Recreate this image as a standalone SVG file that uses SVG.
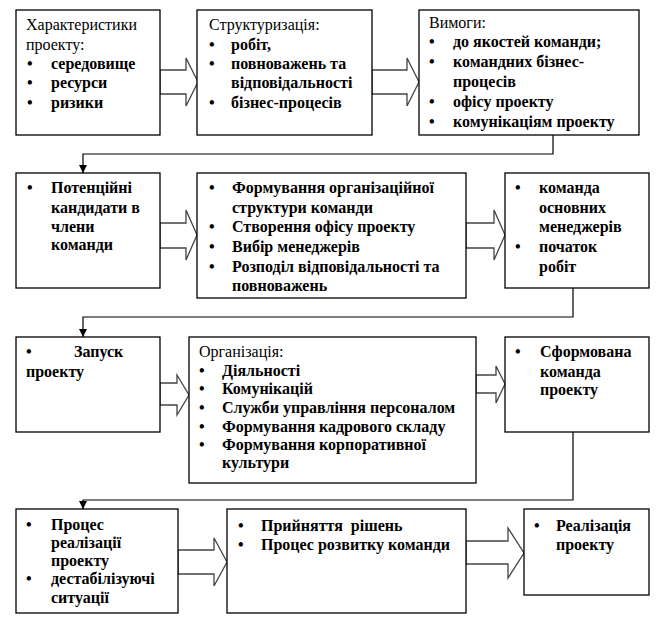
<svg xmlns="http://www.w3.org/2000/svg" width="665" height="620" viewBox="0 0 665 620" font-family="Liberation Serif">
<style>
  text { font-family: "Liberation Serif", "Times New Roman", serif; font-size: 16px; fill: #000; }
  .b { font-weight: bold; }
  .box { fill: #fff; stroke: #000; stroke-width: 1.3; }
  .blk { fill: #fff; stroke: #444; stroke-width: 1.3; stroke-linejoin: miter; }
  .con { fill: none; stroke: #000; stroke-width: 1.2; }
</style>
<defs>
  <marker id="ah" viewBox="0 0 10 10" refX="10" refY="5" markerWidth="8" markerHeight="8" markerUnits="userSpaceOnUse" orient="auto">
    <path d="M0,0 L10,5 L0,10 z" fill="#000"/>
  </marker>
</defs>
<rect width="665" height="620" fill="#fff"/>

<g id="connectors">
  <polygon class="blk" points="160,70 186,70 186,58 198,82 186,106 186,94 160,94"/>
  <polygon class="blk" points="372,70 407,70 407,58 419,82 407,106 407,94 372,94"/>
  <polygon class="blk" points="160,223 186,223 186,210 197,235 186,260 186,248 160,248"/>
  <polygon class="blk" points="466,223 494,223 494,210 505,235 494,260 494,248 466,248"/>
  <polygon class="blk" points="160,383 177,383 177,375 189,395 177,415 177,405 160,405"/>
  <polygon class="blk" points="476,375 496,375 496,366 505,384 496,403 496,393 476,393"/>
  <polygon class="blk" points="178,550 214,550 214,538 227,562 214,586 214,574 178,574"/>
  <polygon class="blk" points="466,541 508,541 508,528 524,553 508,578 508,564 466,564"/>
  <polyline class="con" points="553,135 553,154 83,154 83,173" marker-end="url(#ah)"/>
  <polyline class="con" points="573,288 573,317 83,317 83,337" marker-end="url(#ah)"/>
  <polyline class="con" points="573,432 573,500 83,500 83,509" marker-end="url(#ah)"/>
</g>

<g id="n1">
  <rect class="box" x="16" y="10" width="144" height="125"/>
  <text x="26" y="30">Характеристики</text>
  <text x="26" y="50">проекту:</text>
  <text x="27" y="69" class="b">•</text><text x="51" y="69" class="b">середовище</text>
  <text x="27" y="88" class="b">•</text><text x="51" y="88" class="b">ресурси</text>
  <text x="27" y="108" class="b">•</text><text x="51" y="108" class="b">ризики</text>
</g>

<g id="n2">
  <rect class="box" x="197" y="10" width="175" height="125"/>
  <text x="209" y="30">Структуризація:</text>
  <text x="209" y="50" class="b">•</text><text x="231" y="50" class="b">робіт,</text>
  <text x="209" y="69" class="b">•</text><text x="231" y="69" class="b">повноважень та</text>
  <text x="231" y="88" class="b">відповідальності</text>
  <text x="209" y="108" class="b">•</text><text x="231" y="108" class="b">бізнес-процесів</text>
</g>

<g id="n3">
  <rect class="box" x="419" y="10" width="220" height="125"/>
  <text x="429" y="28">Вимоги:</text>
  <text x="429" y="47" class="b">•</text><text x="453" y="47" class="b">до якостей команди;</text>
  <text x="429" y="67" class="b">•</text><text x="453" y="67" class="b">командних бізнес-</text>
  <text x="453" y="87" class="b">процесів</text>
  <text x="429" y="107" class="b">•</text><text x="453" y="107" class="b">офісу проекту</text>
  <text x="429" y="127" class="b">•</text><text x="453" y="127" class="b">комунікаціям проекту</text>
</g>

<g id="n4">
  <rect class="box" x="16" y="173" width="144" height="115"/>
  <text x="27" y="193" class="b">•</text><text x="51" y="193" class="b">Потенційні</text>
  <text x="51" y="213" class="b">кандидати в</text>
  <text x="51" y="232" class="b">члени</text>
  <text x="51" y="250" class="b">команди</text>
</g>

<g id="n5">
  <rect class="box" x="197" y="173" width="269" height="125"/>
  <text x="209" y="193" class="b">•</text><text x="232" y="193" class="b">Формування організаційної</text>
  <text x="232" y="213" class="b">структури команди</text>
  <text x="209" y="232" class="b">•</text><text x="232" y="232" class="b">Створення офісу проекту</text>
  <text x="209" y="252" class="b">•</text><text x="232" y="252" class="b">Вибір менеджерів</text>
  <text x="209" y="272" class="b">•</text><text x="232" y="272" class="b">Розподіл відповідальності та</text>
  <text x="232" y="291" class="b">повноважень</text>
</g>

<g id="n6">
  <rect class="box" x="505" y="173" width="144" height="115"/>
  <text x="515" y="193" class="b">•</text><text x="539" y="193" class="b">команда</text>
  <text x="539" y="213" class="b">основних</text>
  <text x="539" y="232" class="b">менеджерів</text>
  <text x="515" y="252" class="b">•</text><text x="539" y="252" class="b">початок</text>
  <text x="539" y="272" class="b">робіт</text>
</g>

<g id="n7">
  <rect class="box" x="16" y="337" width="144" height="95"/>
  <text x="26" y="357" class="b">•</text><text x="74" y="357" class="b">Запуск</text>
  <text x="26" y="377" class="b">проекту</text>
</g>

<g id="n8">
  <rect class="box" x="189" y="337" width="287" height="146"/>
  <text x="199" y="357">Організація:</text>
  <text x="199" y="376" class="b">•</text><text x="222" y="376" class="b">Діяльності</text>
  <text x="199" y="394" class="b">•</text><text x="222" y="394" class="b">Комунікацій</text>
  <text x="199" y="413" class="b">•</text><text x="222" y="413" class="b">Служби управління персоналом</text>
  <text x="199" y="432" class="b">•</text><text x="222" y="432" class="b">Формування кадрового складу</text>
  <text x="199" y="450" class="b">•</text><text x="222" y="450" class="b">Формування корпоративної</text>
  <text x="222" y="468" class="b">культури</text>
</g>

<g id="n9">
  <rect class="box" x="505" y="337" width="144" height="95"/>
  <text x="515" y="357" class="b">•</text><text x="540" y="357" class="b">Сформована</text>
  <text x="540" y="377" class="b">команда</text>
  <text x="540" y="395" class="b">проекту</text>
</g>

<g id="n10">
  <rect class="box" x="16" y="509" width="162" height="104"/>
  <text x="26" y="530" class="b">•</text><text x="51" y="530" class="b">Процес</text>
  <text x="51" y="548" class="b">реалізації</text>
  <text x="51" y="566" class="b">проекту</text>
  <text x="26" y="584" class="b">•</text><text x="51" y="584" class="b">дестабілізуючі</text>
  <text x="51" y="603" class="b">ситуації</text>
</g>

<g id="n11">
  <rect class="box" x="227" y="509" width="239" height="104"/>
  <text x="238" y="531" class="b">•</text><text x="261" y="531" class="b" style="white-space:pre">Прийняття  рішень</text>
  <text x="238" y="550" class="b">•</text><text x="261" y="550" class="b">Процес розвитку команди</text>
</g>

<g id="n12">
  <rect class="box" x="524" y="509" width="125" height="86"/>
  <text x="534" y="531" class="b">•</text><text x="556" y="531" class="b">Реалізація</text>
  <text x="556" y="550" class="b">проекту</text>
</g>
</svg>
